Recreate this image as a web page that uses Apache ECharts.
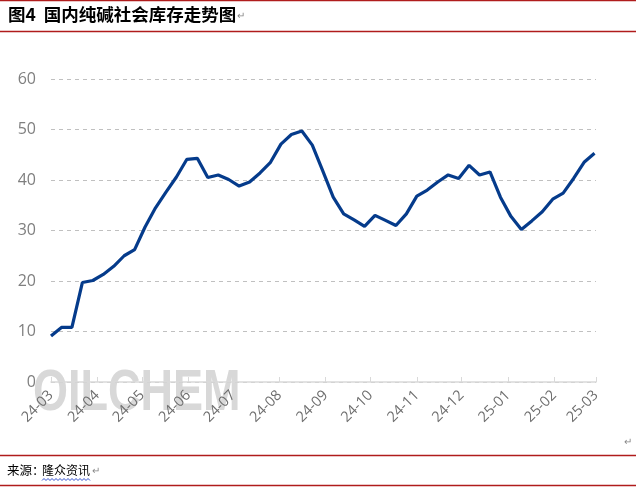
<!DOCTYPE html>
<html>
<head>
<meta charset="utf-8">
<script src="https://cdn.jsdelivr.net/npm/echarts@6/dist/echarts.min.js"></script>
<style>
html,body{margin:0;padding:0;background:#fff;}
#c{width:636px;height:493px;}
</style>
</head>
<body>
<div id="c"></div>
<script>
var dates = ['2024-03-01','2024-03-08','2024-03-15','2024-03-22','2024-03-29','2024-04-05','2024-04-12','2024-04-19','2024-04-26',
'2024-05-03','2024-05-10','2024-05-17','2024-05-24','2024-05-31','2024-06-07','2024-06-14','2024-06-21','2024-06-28',
'2024-07-05','2024-07-12','2024-07-19','2024-07-26','2024-08-02','2024-08-09','2024-08-16','2024-08-23','2024-08-30',
'2024-09-06','2024-09-13','2024-09-20','2024-09-27','2024-10-04','2024-10-11','2024-10-18','2024-10-25','2024-11-01',
'2024-11-08','2024-11-15','2024-11-22','2024-11-29','2024-12-06','2024-12-13','2024-12-20','2024-12-27','2025-01-03',
'2025-01-10','2025-01-17','2025-01-24','2025-01-31','2025-02-07','2025-02-14','2025-02-21','2025-02-28'];
var inventory = [9.1,10.8,10.8,19.7,20.1,21.3,22.9,25.0,26.2,
30.7,34.5,37.6,40.6,44.1,44.3,40.5,41.0,40.1,
38.8,39.6,41.4,43.5,47.1,49.0,49.7,46.9,41.8,
36.6,33.3,32.1,30.8,33.0,32.0,31.0,33.3,36.8,
38.0,39.6,41.0,40.3,42.9,41.0,41.6,36.6,32.8,
30.2,31.9,33.7,36.2,37.4,40.3,43.5,45.3];
var yTicks = [0,10,20,30,40,50,60];
var titleText = '图4  国内纯碱社会库存走势图';
var sourceLabel = '来源：';
var sourceName = '隆众资讯';

var seriesData = dates.map(function(d,i){ return [d, inventory[i]]; });
var red = '#b01c1c';
var wave = [];
for (var wx = 42; wx <= 90; wx += 2) { wave.push([wx, (wx/2)%2===0 ? 478.5 : 480.5]); }
var chart = echarts.init(document.getElementById('c'), null, {renderer:'canvas'});
chart.setOption({
  animation:false,
  backgroundColor:'#fff',
  grid:{left:51,right:40,top:79,bottom:111},
  xAxis:{
    type:'time',
    min:'2024-03-01', max:'2025-03-01',
    minInterval:28*86400000, maxInterval:31*86400000,
    axisLine:{show:true,lineStyle:{color:'#d9d9d9',width:1.5}},
    axisTick:{show:true,inside:true,length:5,lineStyle:{color:'#d9d9d9'}},
    axisLabel:{formatter:'{yy}-{MM}',rotate:45,color:'#6e6e6e',fontSize:14.5,fontFamily:'Open Sans',margin:11,showMinLabel:true,showMaxLabel:true,hideOverlap:false},
    splitLine:{show:false},
    z:3
  },
  yAxis:{
    type:'value',min:yTicks[0],max:yTicks[yTicks.length-1],interval:10,
    axisLine:{show:false},axisTick:{show:false},
    axisLabel:{color:'#7f7f7f',fontSize:16,fontFamily:'Open Sans',margin:15},
    splitLine:{show:true,lineStyle:{color:'#c0c0c0',type:[4,4],width:1}},
    z:3
  },
  series:[{
    type:'line',data:seriesData,showSymbol:false,symbol:'none',
    lineStyle:{color:'#053b8b',width:3.2},
    z:5
  }],
  graphic:[
    {type:'text',x:33,y:366,z:-100,scaleX:0.79,style:{text:'OILCHEM',fontFamily:'Liberation Sans',fontWeight:'bold',fontSize:57,
      fill:'#d8d8d8'}},
    {type:'line',shape:{x1:0,y1:0.5,x2:636,y2:0.5},style:{stroke:red,lineWidth:1.5},silent:true},
    {type:'line',shape:{x1:0,y1:31.5,x2:636,y2:31.5},style:{stroke:red,lineWidth:1.5},silent:true},
    {type:'text',left:8,top:6,style:{text:titleText,font:'bold 17.5px "Noto Sans CJK SC"',fill:'#000'}},
    {type:'text',left:237,top:11,style:{text:'↵',font:'10px sans-serif',fill:'#888'}},
    {type:'text',left:624,top:437,style:{text:'↵',font:'10px sans-serif',fill:'#888'}},
    {type:'line',shape:{x1:0,y1:455.5,x2:636,y2:455.5},style:{stroke:red,lineWidth:1.5},silent:true},
    {type:'line',shape:{x1:0,y1:485.5,x2:636,y2:485.5},style:{stroke:red,lineWidth:1.5},silent:true},
    {type:'text',left:7,top:464,style:{text:sourceLabel,font:'12.5px "Noto Sans CJK SC"',fill:'#000'}},
    {type:'text',left:42,top:464,style:{text:sourceName,font:'12px "Noto Sans CJK SC"',fill:'#000'}},
    {type:'polyline',shape:{points:wave},style:{stroke:'#3050d0',lineWidth:1,fill:null}},
    {type:'text',left:92,top:466,style:{text:'↵',font:'10px sans-serif',fill:'#888'}}
  ]
});
</script>
</body>
</html>
